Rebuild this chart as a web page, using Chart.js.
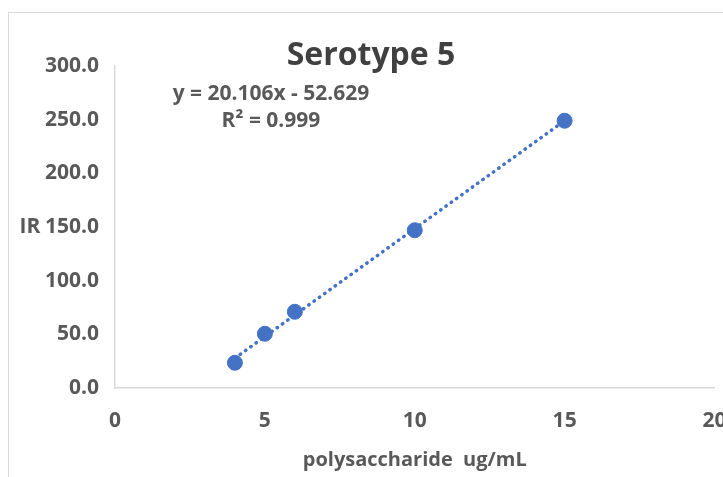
<!DOCTYPE html>
<html>
<head>
<meta charset="utf-8">
<script src="https://cdn.jsdelivr.net/npm/chart.js"></script>
<style>
html, body { margin: 0; padding: 0; background: #fff; overflow: hidden; }
#frame { position: absolute; left: 8px; top: 12px; width: 900px; height: 700px; border: 1px solid #d9d9d9; }
#wrap { position: absolute; left: 0; top: 0; width: 723px; height: 477px; }
</style>
</head>
<body>
<div id="frame"></div>
<div id="wrap"><canvas id="myChart"></canvas></div>
<script>
const conc = [4, 5, 6, 10, 15];
const ir = [23.5, 50.5, 71, 147, 249];
const trendX = [4, 15];
const trendY = [27.8, 249.0];
const titleText = 'Serotype 5';
const eqText = 'y = 20.106x - 52.629';
const r2Text = 'R\u00b2 = 0.999';
const yTitle = 'IR';
const xTitle = 'polysaccharide  ug/mL';

const ctx = document.getElementById('myChart');
const txtColor = '#595959';

const textPlugin = {
    id: 'texts',
    afterDraw(chart) {
        const c = chart.ctx;
        c.save();
        c.textAlign = 'center';
        c.textBaseline = 'middle';
        c.fillStyle = '#404040';
        c.font = 'bold 32px "Open Sans"';
        c.fillText(titleText, 371, 56);
        c.fillStyle = txtColor;
        c.font = 'bold 21px "Open Sans"';
        c.fillText(eqText, 271, 94);
        c.fillText(r2Text, 271, 121);
        c.fillText(yTitle, 30, chart.scales.y.getPixelForValue(150));
        c.restore();
    }
};

new Chart(ctx, {
    type: 'scatter',
    data: {
        datasets: [{
            data: conc.map((x, i) => ({ x: x, y: ir[i] })),
            backgroundColor: '#4472C4',
            borderColor: '#4472C4',
            pointRadius: 7.5,
            pointHoverRadius: 7.5,
            order: 1
        }, {
            data: trendX.map((x, i) => ({ x: x, y: trendY[i] })),
            showLine: true,
            borderColor: '#4472C4',
            borderWidth: 3.5,
            borderDash: [0.5, 6],
            borderCapStyle: 'round',
            pointRadius: 0,
            order: 2
        }]
    },
    options: {
        responsive: true,
        maintainAspectRatio: false,
        animation: false,
        layout: { padding: { left: 18, right: 3, top: 66, bottom: 0 } },
        scales: {
            x: {
                type: 'linear',
                min: 0,
                max: 20,
                ticks: {
                    stepSize: 5,
                    padding: 20,
                    color: txtColor,
                    font: { family: 'Open Sans', size: 21, weight: 'bold' }
                },
                grid: { display: true, drawOnChartArea: false, drawTicks: false },
                border: { display: true, color: '#d9d9d9', width: 1.5 },
                title: {
                    display: true,
                    text: xTitle,
                    color: txtColor,
                    font: { family: 'Open Sans', size: 20, weight: 'bold' },
                    padding: { top: 0, bottom: 5 }
                },
                afterFit(scale) {
                    scale.height = 89;
                    scale.paddingLeft = 0;
                    scale.paddingRight = 0;
                }
            },
            y: {
                min: 0,
                max: 300,
                ticks: {
                    stepSize: 50,
                    padding: 16,
                    color: txtColor,
                    font: { family: 'Open Sans', size: 21, weight: 'bold' },
                    callback: (v) => v.toFixed(1)
                },
                grid: { display: true, drawOnChartArea: false, drawTicks: false },
                border: { display: true, color: '#d9d9d9', width: 1.5 },
                afterFit(scale) {
                    scale.width = 97;
                    scale.paddingTop = 0;
                    scale.paddingBottom = 0;
                }
            }
        },
        plugins: {
            legend: { display: false },
            tooltip: { enabled: false }
        }
    },
    plugins: [textPlugin]
});
</script>
</body>
</html>
